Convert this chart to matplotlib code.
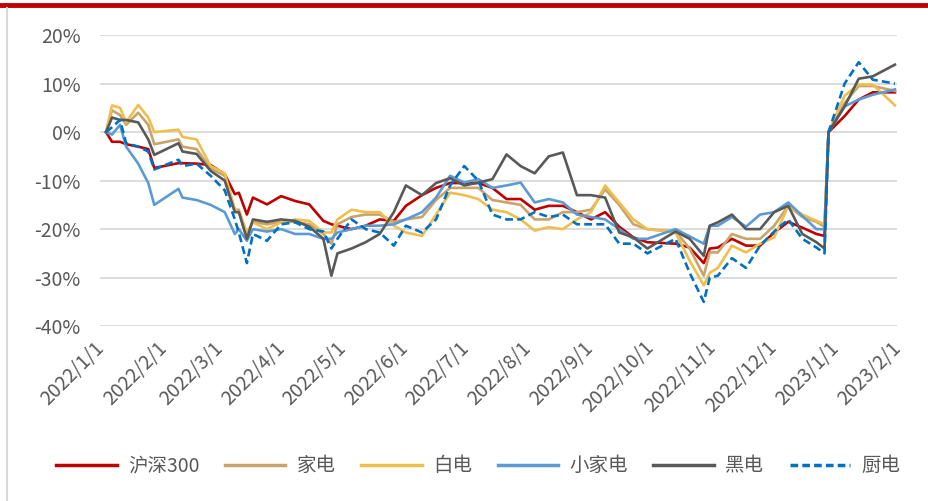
import pandas as pd
import numpy as np
import matplotlib
matplotlib.use("Agg")
import matplotlib.pyplot as plt
import matplotlib.dates as mdates
import matplotlib.transforms as mtransforms
from matplotlib.ticker import PercentFormatter, FixedLocator
from matplotlib.lines import Line2D

plt.rcParams['font.family'] = ['Noto Sans CJK SC', 'DejaVu Sans']
plt.rcParams['axes.unicode_minus'] = False

# 数据 (累计涨跌幅, %)
dates = ["2022-01-04", "2022-01-07", "2022-01-11", "2022-01-14", "2022-01-20", "2022-01-25",
         "2022-01-28", "2022-02-09", "2022-02-11", "2022-02-18", "2022-02-25", "2022-03-04",
         "2022-03-09", "2022-03-11", "2022-03-15", "2022-03-18", "2022-03-25", "2022-04-01",
         "2022-04-08", "2022-04-15", "2022-04-22", "2022-04-26", "2022-04-29", "2022-05-06",
         "2022-05-13", "2022-05-20", "2022-05-27", "2022-06-02", "2022-06-10", "2022-06-17",
         "2022-06-24", "2022-07-01", "2022-07-08", "2022-07-15", "2022-07-22", "2022-07-29",
         "2022-08-05", "2022-08-12", "2022-08-19", "2022-08-26", "2022-09-02", "2022-09-09",
         "2022-09-16", "2022-09-23", "2022-09-30", "2022-10-14", "2022-10-21", "2022-10-28",
         "2022-10-31", "2022-11-04", "2022-11-11", "2022-11-18", "2022-11-25", "2022-12-02",
         "2022-12-09", "2022-12-16", "2022-12-23", "2022-12-27", "2022-12-29", "2023-01-06",
         "2023-01-13", "2023-01-20", "2023-01-31"]

hs300 = [0, -2, -2, -2.5, -3, -3.5, -7.4, -6.4, -6.4, -6.5, -6.8, -8.7,
         -12.8, -12.5, -17, -13.5, -14.9, -13.2, -14.2, -14.9, -18.3, -19, -19.3, -20,
         -19.3, -18, -18.3, -15.2, -13, -11.5, -10.5, -10.5, -10.5, -11.5, -13.8, -13.8,
         -16, -15.2, -15.2, -16.5, -18, -16.5, -19.5, -21.7, -22.7, -23, -23.8, -27,
         -24, -23.8, -22, -23.4, -23.4, -20.7, -18.5, -19.7, -21, -21.4, 0, 3.3,
         6.7, 8.2, 8.2]

jiadian = [0, 4.5, 3.5, 1.5, 4, 1.5, -2.5, -1.5, -3, -3.5, -7.5, -9,
           -16, -16, -21, -18.5, -19, -18.5, -18.5, -19, -21, -23, -19, -17.5,
           -17, -17, -18.5, -18, -17.5, -14, -11.5, -11.5, -11.5, -14, -14.5, -15,
           -18, -18, -16.5, -16.5, -16, -11.8, -15, -19, -20, -20.5, -24, -29.6,
           -24.8, -24.8, -21, -22, -22, -19.3, -15.2, -17.5, -18.5, -19.5, 0, 6,
           9.5, 9.5, 8.5]

baidian = [0, 5.5, 5, 2, 5.6, 3, 0, 0.5, -1, -1.5, -7, -8.5,
           -16, -16.5, -20.7, -18.6, -20, -18.6, -18, -18.3, -20.7, -20.7, -18, -16,
           -16.5, -16.5, -19.3, -20.7, -21.4, -17, -12.5, -13, -13.8, -16, -16.5, -18,
           -20.3, -19.6, -20, -18, -16.5, -11, -14.5, -18, -20, -20.7, -26.5, -31.6,
           -29, -28, -23.4, -24.8, -23, -21.7, -15.2, -17, -18.3, -19, 0, 7.5,
           9.8, 9.8, 5.5]

xiaojiadian = [0, -0.5, 1.5, -3, -6.5, -10.5, -15, -11.7, -13.5, -14, -15, -16.5,
               -21, -20, -22.4, -20, -20.5, -20, -21, -21, -22, -22, -20.7, -20,
               -19.3, -19.3, -19, -18, -16.5, -13.5, -9, -10.4, -9.7, -11.5, -11, -10.4,
               -14.5, -13.8, -14.5, -17, -17.5, -18, -20, -22, -22, -20, -21.5, -23,
               -19.3, -19.3, -17.5, -19.5, -17, -16.5, -14.5, -17.3, -20, -20, 0, 5.3,
               6.7, 7.7, 8.8]

heidian = [0, 3, 2.5, 2.5, 2, -1.5, -4.7, -2.3, -4, -4.5, -8, -10,
           -16.5, -16.5, -22, -18, -18.5, -18, -18.3, -19.5, -22, -29.6, -25, -24,
           -22.7, -21, -16.5, -11, -13, -10.5, -9.5, -11, -10.4, -9.7, -4.6, -7,
           -8.5, -5, -4.2, -13, -13, -13.5, -20.7, -21.7, -24, -20.5, -22, -25.5,
           -19.3, -18.6, -17, -20, -20, -16.5, -15.2, -21, -22.7, -24, 0, 5.3,
           11, 11.5, 13.9]

chudian = [0, 1, 2.5, -2.3, -3, -4, -7.7, -5.7, -7, -6.5, -9, -12,
           -18, -20.7, -27, -21, -22.4, -19, -18.6, -20, -20.5, -24, -22, -18,
           -20, -20.7, -23.4, -19.3, -20.7, -18, -11, -7, -10, -17, -18, -18,
           -16.5, -17.5, -17, -19, -19, -19, -23, -23, -25, -22, -29, -35,
           -30, -29.6, -26, -28, -23.4, -20.5, -18, -22, -23.8, -25, 0, 10,
           14.4, 10.8, 10]

names = ["沪深300", "家电", "白电", "小家电", "黑电", "厨电"]
colors = ["#C00000", "#C9A46A", "#F0BE4F", "#5B9BD5", "#595959", "#0070C0"]
series = [hs300, jiadian, baidian, xiaojiadian, heidian, chudian]

x = pd.to_datetime(dates)

fig = plt.figure(figsize=(9.29, 5.01), dpi=100)
ax = fig.add_axes([0.1076, 0.349, 0.8579, 0.581])

for name, c, s in zip(names, colors, series):
    ls = (0, (3, 1.6)) if name == "厨电" else '-'
    ax.plot(x, s, color=c, lw=1.9, ls=ls, label=name, zorder=3)

ax.set_ylim(-40, 20)
ax.set_yticks(np.arange(-40, 21, 10))
ax.yaxis.set_major_formatter(PercentFormatter(decimals=0))
ax.grid(axis='y', color='#D9D9D9', lw=1.3, zorder=0)

ticks = pd.date_range("2022-01-01", "2023-02-01", freq="MS")
ax.set_xlim(ticks[0], ticks[-1])
ax.xaxis.set_major_locator(FixedLocator(mdates.date2num(ticks)))
ax.set_xticklabels([f"{t.year}/{t.month}/{t.day}" for t in ticks])

for sp in ax.spines.values():
    sp.set_visible(False)
ax.tick_params(length=0, colors='#595959')
ax.tick_params(axis='y', labelsize=14, pad=14)
ax.tick_params(axis='x', labelsize=14, pad=8)
shift = mtransforms.ScaledTranslation(-6 / 100, 0, fig.dpi_scale_trans)
for lab in ax.get_xticklabels():
    lab.set_rotation(45)
    lab.set_ha('right')
    lab.set_rotation_mode('anchor')
    lab.set_transform(lab.get_transform() + shift)

handles = [Line2D([], [], color=c, lw=2.5, ls=((0, (2.2, 1.2)) if n == "厨电" else '-'))
           for n, c in zip(names, colors)]
leg = fig.legend(handles, names, loc='center', bbox_to_anchor=(0.515, 0.07), ncol=6,
                 frameon=False, handlelength=3.1, columnspacing=1.3, handletextpad=0.6,
                 fontsize=14, labelcolor='#595959')

# 顶部红线与左侧边线
fig.add_artist(Line2D([0, 1], [0.991, 0.991], color='#C00000', lw=3.5, transform=fig.transFigure))
fig.add_artist(Line2D([0.008, 0.008], [0, 0.984], color='#D9D9D9', lw=1.5, transform=fig.transFigure))

fig.savefig("out.png", dpi=100)
